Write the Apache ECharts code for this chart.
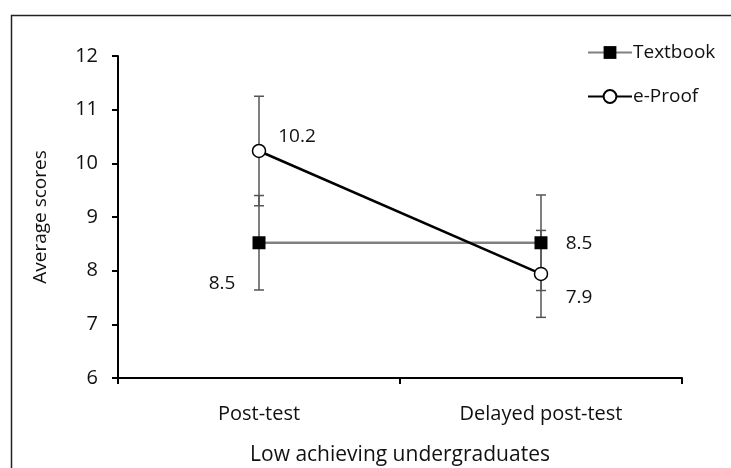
<!DOCTYPE html>
<html>
<head>
<meta charset="utf-8">
<script src="https://cdn.jsdelivr.net/npm/echarts@6/dist/echarts.min.js"></script>
<style>
html,body{margin:0;padding:0;background:#fff;}
#main{width:731px;height:468px;}
</style>
</head>
<body>
<div id="main"></div>
<script>
var categories = ['Post-test', 'Delayed post-test'];
var textbookValues = [8.52, 8.52];
var textbookErrors = [0.88, 0.89];
var eproofValues = [10.23, 7.94];
var eproofErrors = [1.02, 0.81];
var yTicks = [6, 7, 8, 9, 10, 11, 12];

var FONT = 'Open Sans';
var TXT = '#111';
var chart = echarts.init(document.getElementById('main'));

function errData(vals, errs) {
  return vals.map(function (v, i) { return [i, v - errs[i], v + errs[i]]; });
}
function errRender(params, api) {
  var x = api.value(0);
  var lo = api.coord([x, api.value(1)]);
  var hi = api.coord([x, api.value(2)]);
  var hw = 5;
  var st = { stroke: '#555', lineWidth: 1.5 };
  return {
    type: 'group',
    children: [
      { type: 'line', shape: { x1: lo[0], y1: lo[1], x2: hi[0], y2: hi[1] }, style: st },
      { type: 'line', shape: { x1: lo[0] - hw, y1: lo[1], x2: lo[0] + hw, y2: lo[1] }, style: st },
      { type: 'line', shape: { x1: hi[0] - hw, y1: hi[1], x2: hi[0] + hw, y2: hi[1] }, style: st }
    ]
  };
}

var textbookLabelOffsets = [[-37, 41], [38, 1]];
var eproofLabelOffsets = [[38, -14], [38, 24]];

function labeled(vals, offsets) {
  return vals.map(function (v, i) {
    return {
      value: v,
      label: {
        show: true, position: 'inside', offset: offsets[i],
        formatter: function (p) { return p.value.toFixed(1); },
        color: TXT, fontFamily: FONT, fontSize: 19
      }
    };
  });
}

chart.setOption({
  animation: false,
  backgroundColor: '#fff',
  graphic: [{
    type: 'rect', left: 9, top: 13, shape: { x: 0, y: 0, width: 740, height: 480 },
    style: { fill: 'none', stroke: '#222', lineWidth: 1.5 }, z: -1
  }],
  legend: {
    orient: 'vertical', left: 582, top: 38, itemWidth: 44, itemHeight: 16, itemGap: 25,
    textStyle: { fontFamily: FONT, fontSize: 19, color: TXT, padding: [0, 0, 0, -4] },
    data: ['Textbook', 'e-Proof']
  },
  grid: { left: 118, right: 49, top: 56, bottom: 90, containLabel: false, outerBoundsMode: 'none' },
  xAxis: {
    type: 'category', data: categories, boundaryGap: true,
    axisLine: { lineStyle: { color: '#000', width: 2 } },
    axisTick: { show: true, length: 6, lineStyle: { color: '#000', width: 2 } },
    axisLabel: { color: TXT, fontFamily: FONT, fontSize: 20, margin: 26 },
    name: 'Low achieving undergraduates', nameLocation: 'middle', nameGap: 67,
    nameTextStyle: { color: TXT, fontFamily: FONT, fontSize: 21 }
  },
  yAxis: {
    type: 'value', min: 6, max: 12, interval: 1,
    axisLine: { show: true, lineStyle: { color: '#000', width: 2 } },
    axisTick: { show: true, length: 6, lineStyle: { color: '#000', width: 2 } },
    splitLine: { show: false },
    axisLabel: { color: TXT, fontFamily: FONT, fontSize: 20, margin: 20,
      formatter: function (v) { return yTicks.indexOf(v) >= 0 ? String(v) : ''; } },
    name: 'Average scores', nameLocation: 'middle', nameRotate: 90, nameGap: 68,
    nameTextStyle: { color: TXT, fontFamily: FONT, fontSize: 19 }
  },
  series: [
    { type: 'custom', name: 'errT', renderItem: errRender, data: errData(textbookValues, textbookErrors), z: 1, silent: true },
    { type: 'custom', name: 'errE', renderItem: errRender, data: errData(eproofValues, eproofErrors), z: 1, silent: true },
    {
      type: 'line', name: 'Textbook', data: labeled(textbookValues, textbookLabelOffsets),
      symbol: 'rect', symbolSize: 13,
      lineStyle: { color: '#808080', width: 2.5 },
      itemStyle: { color: '#000', borderColor: '#000', borderWidth: 0 },
      z: 3
    },
    {
      type: 'line', name: 'e-Proof', data: labeled(eproofValues, eproofLabelOffsets),
      symbol: 'circle', symbolSize: 13,
      lineStyle: { color: '#000', width: 2.5 },
      itemStyle: { color: '#fff', borderColor: '#000', borderWidth: 1.5 },
      z: 4
    }
  ]
});
</script>
</body>
</html>
